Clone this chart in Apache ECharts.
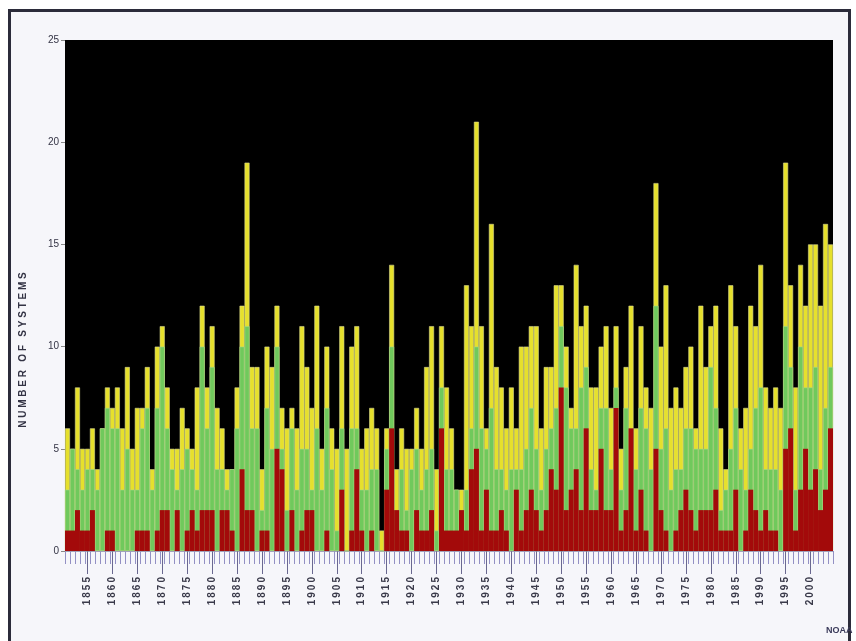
<!DOCTYPE html>
<html lang="en">
    <head>
        <meta charset="UTF-8" />
        <title>Number of systems</title>
        <script src="https://cdn.jsdelivr.net/npm/echarts@6/dist/echarts.min.js"></script>
        <style>
            html, body { margin: 0; padding: 0; background: #ffffff; }
            .frame {
                position: absolute; left: 8px; top: 9px; width: 837px; height: 640px;
                border: 3px solid #2b2b3a; background: #f6f6fa;
            }
            #chart { position: absolute; left: 0; top: 0; width: 856px; height: 641px; }
        </style>
    </head>
    <body>
        <div class="frame"></div>
        <div id="chart"></div>
        <script>
            // seasons 1851 - 2004
            var years = [];
            for (var y = 1851; y <= 2004; y++) years.push(String(y));

            // total named systems per season
            var storms = [
                6, 5, 8, 5, 5, 6, 4, 6, 8, 7,
                8, 6, 9, 5, 7, 7, 9, 4, 10, 11,
                8, 5, 5, 7, 6, 5, 8, 12, 8, 11,
                7, 6, 4, 4, 8, 12, 19, 9, 9, 4,
                10, 9, 12, 7, 6, 7, 6, 11, 9, 7,
                12, 5, 10, 6, 5, 11, 5, 10, 11, 5,
                6, 7, 6, 1, 6, 14, 4, 6, 5, 5,
                7, 5, 9, 11, 4, 11, 8, 6, 3, 3,
                13, 11, 21, 11, 6, 16, 9, 8, 6, 8,
                6, 10, 10, 11, 11, 6, 9, 9, 13, 13,
                10, 7, 14, 11, 12, 8, 8, 10, 11, 7,
                11, 5, 9, 12, 6, 11, 8, 7, 18, 10,
                13, 7, 8, 7, 9, 10, 6, 12, 9, 11,
                12, 6, 4, 13, 11, 6, 7, 12, 11, 14,
                8, 7, 8, 7, 19, 13, 8, 14, 12, 15,
                15, 12, 16, 15
            ];
            // hurricanes
            var hurricanes = [
                3, 5, 4, 3, 4, 4, 3, 6, 7, 6,
                6, 3, 5, 3, 3, 6, 7, 3, 7, 10,
                6, 4, 3, 4, 5, 4, 3, 10, 6, 9,
                4, 4, 3, 4, 6, 10, 11, 6, 6, 2,
                7, 5, 10, 5, 2, 6, 3, 5, 5, 3,
                6, 3, 7, 4, 1, 6, 0, 6, 6, 3,
                3, 4, 4, 0, 5, 10, 2, 4, 2, 4,
                5, 3, 4, 5, 1, 8, 4, 4, 3, 2,
                3, 6, 10, 6, 5, 7, 4, 4, 3, 4,
                4, 4, 5, 7, 5, 3, 5, 6, 7, 11,
                8, 6, 6, 8, 9, 4, 3, 7, 7, 4,
                8, 3, 7, 6, 4, 7, 6, 4, 12, 5,
                6, 3, 4, 4, 6, 6, 5, 5, 5, 9,
                7, 2, 3, 5, 7, 4, 3, 5, 7, 8,
                4, 4, 4, 3, 11, 9, 3, 10, 8, 8,
                9, 4, 7, 9
            ];
            // major hurricanes
            var majors = [
                1, 1, 2, 1, 1, 2, 0, 0, 1, 1,
                0, 0, 0, 0, 1, 1, 1, 0, 1, 2,
                2, 0, 2, 0, 1, 2, 1, 2, 2, 2,
                0, 2, 2, 1, 0, 4, 2, 2, 0, 1,
                1, 0, 5, 4, 0, 2, 0, 1, 2, 2,
                0, 0, 1, 0, 0, 3, 0, 1, 4, 1,
                0, 1, 0, 0, 3, 6, 2, 1, 1, 0,
                2, 1, 1, 2, 0, 6, 1, 1, 1, 2,
                1, 4, 5, 1, 3, 1, 1, 2, 1, 0,
                3, 1, 2, 3, 2, 1, 2, 4, 3, 8,
                2, 3, 4, 2, 6, 2, 2, 5, 2, 2,
                7, 1, 2, 6, 1, 3, 1, 0, 5, 2,
                1, 0, 1, 2, 3, 2, 1, 2, 2, 2,
                3, 1, 1, 1, 3, 0, 1, 3, 2, 1,
                2, 1, 1, 0, 5, 6, 1, 3, 5, 3,
                4, 2, 3, 6
            ];
            var yTicks = [0, 5, 10, 15, 20, 25];

            // the old picture is stretched, so spread the letters a bit
            function spaced(s, gap) {
                return s.split('').join(gap);
            }
            function isLabelYear(i, v) {
                return Number(v) % 5 === 0;
            }

            var element = document.getElementById('chart');
            const myChart = echarts.init(element);

            var option = {
                animation: false,
                textStyle: { fontFamily: 'Liberation Sans' },
                grid: { left: 65, top: 40, right: 23, bottom: 90, show: true, backgroundColor: '#000000', borderWidth: 0 },
                xAxis: [
                    {
                        type: 'category',
                        data: years,
                        axisLine: { show: true, lineStyle: { color: '#9c98c8', width: 1 } },
                        axisTick: { show: true, interval: 0, length: 13, lineStyle: { color: '#9390c4' } },
                        axisLabel: {
                            interval: isLabelYear,
                            rotate: 90,
                            margin: 26,
                            fontSize: 10,
                            fontWeight: 'bold',
                            color: '#3a3a4a',
                            formatter: function (v) { return spaced(v, '\u2009'); }
                        },
                        splitLine: { show: false }
                    },
                    {
                        type: 'category',
                        data: years,
                        position: 'bottom',
                        axisLine: { show: false },
                        axisTick: {
                            show: true,
                            alignWithLabel: true,
                            interval: isLabelYear,
                            length: 23,
                            lineStyle: { color: '#6a6890' }
                        },
                        axisLabel: { show: false },
                        splitLine: { show: false }
                    }
                ],
                yAxis: {
                    type: 'value',
                    min: yTicks[0],
                    max: yTicks[yTicks.length - 1],
                    interval: 5,
                    axisLine: { show: false },
                    axisTick: { show: true, length: 4, lineStyle: { color: '#888' } },
                    axisLabel: { fontSize: 10, color: '#333344', margin: 6 },
                    splitLine: { show: false }
                },
                series: [
                    {
                        name: 'Tropical storms',
                        type: 'bar',
                        data: storms,
                        barCategoryGap: '0%',
                        barGap: '-100%',
                        itemStyle: { color: '#e6e02c', borderColor: '#d8d890', borderWidth: 0.6 }
                    },
                    {
                        name: 'Hurricanes',
                        type: 'bar',
                        data: hurricanes,
                        barCategoryGap: '0%',
                        barGap: '-100%',
                        itemStyle: { color: '#70c95c', borderColor: '#a8d888', borderWidth: 0.6 }
                    },
                    {
                        name: 'Major hurricanes',
                        type: 'bar',
                        data: majors,
                        barCategoryGap: '0%',
                        barGap: '-100%',
                        itemStyle: { color: '#a30a0a' }
                    }
                ],
                graphic: [
                    {
                        type: 'text',
                        x: 23,
                        y: 350,
                        rotation: Math.PI / 2,
                        style: {
                            text: 'N U M B E R   O F   S Y S T E M S',
                            fontSize: 10,
                            fontWeight: 'bold',
                            fill: '#333344',
                            align: 'center',
                            verticalAlign: 'middle',
                            fontFamily: 'Liberation Sans'
                        }
                    },
                    {
                        type: 'text',
                        x: 826,
                        y: 626,
                        style: { text: 'NOAA', fontSize: 9, fontWeight: 'bold', fill: '#3a3a5a', fontFamily: 'Liberation Sans' }
                    }
                ]
            };
            myChart.setOption(option, true);
        </script>
    </body>
</html>
